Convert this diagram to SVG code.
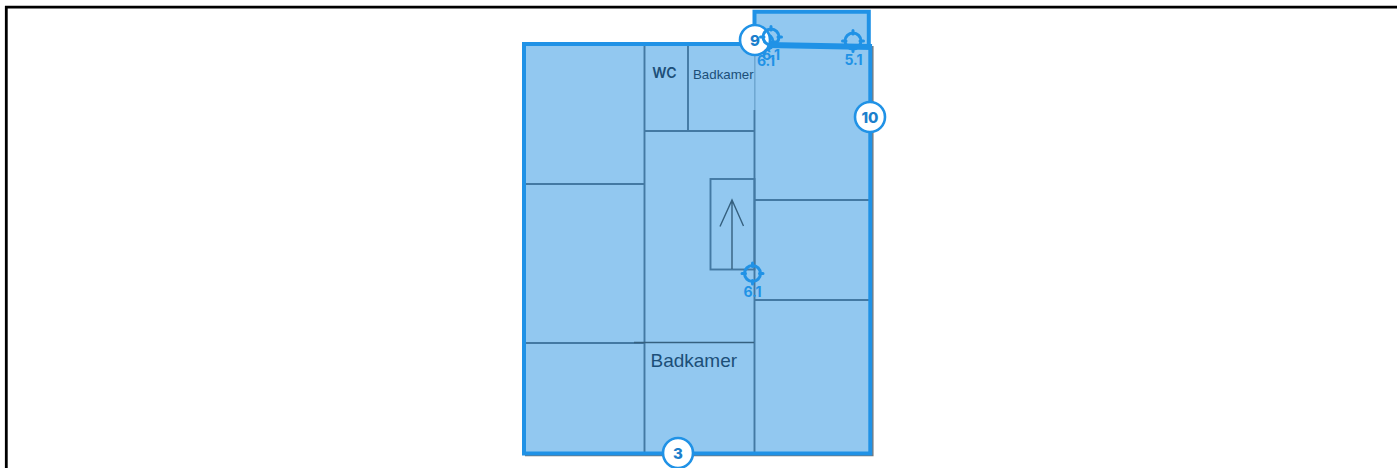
<svg xmlns="http://www.w3.org/2000/svg" width="1397" height="468" viewBox="0 0 1397 468">
<style>
.room{fill:#92c8f0;stroke:none}
.edge{fill:none;stroke:#2092e6;stroke-width:4}
.wall{fill:none;stroke:#4379a3;stroke-width:1.900}
.faint{fill:none;stroke:#6ea6d0;stroke-width:1.500}
.dark{fill:none;stroke:#35607f;stroke-width:1.400}
.lbl{font-family:"Liberation Sans",Arial,sans-serif;fill:#1c4f78}
.mark{fill:none;stroke:#2092e6;stroke-width:3}
.code{font-family:Inter,"Liberation Sans",sans-serif;font-size:14px;font-weight:700;fill:#2092e6;text-anchor:middle}
.badge{fill:#fff;stroke:#2092e6;stroke-width:2.600}
.num{font-family:Inter,"Liberation Sans",sans-serif;font-size:15px;font-weight:800;fill:#1c7fcc;text-anchor:middle}
</style>
<defs>
<g id="target">
<circle r="8" class="mark"/>
<path class="mark" stroke-linecap="round" d="M0-10.500V-7M0 7V10.500M-10.500 0H-7M7 0H10.500"/>
</g>
</defs>
<path id="frame" d="M6.300 468V7.100H1397" fill="none" stroke="#000" stroke-width="2.800"/>
<g id="plan">
<path d="M525 455.500H872.800V46" fill="none" stroke="#777" stroke-width="1.500"/>
<rect id="room-main" class="room" x="524" y="44" width="346" height="410"/>
<rect id="room-top" class="room" x="755" y="12" width="114" height="33"/>
<g id="walls">
<path class="wall" d="M644.500 45V453M688 45V131M754.500 110V453M645 131H754M525 184H645M525 343H645M755 200H870M755 300H870"/>
<path class="faint" d="M754.800 46V110"/>
<path class="dark" d="M634 342.500H754"/>
<rect class="wall" x="710.500" y="179" width="44" height="90.500"/>
<path class="dark" d="M732 269V201M720 226.500L732 200L743.500 226"/>
</g>
<path class="edge" d="M755 44H524V453.500H870.300V46"/>
<path class="edge" d="M754.500 44V11.800H868.800V44"/>
</g>
<g id="label-wc"><text class="lbl" x="664.500" y="78" font-size="14" text-anchor="middle" style="font-family:Inter,'Liberation Sans',sans-serif;font-weight:600">WC</text></g>
<g id="label-badkamer-small"><text class="lbl" x="693" y="79" font-size="13.300">Badkamer</text></g>
<g id="label-badkamer"><text class="lbl" x="650.500" y="367" font-size="19">Badkamer</text></g>
<g id="marker-6-1-second"><use href="#target" x="765" y="42"/><text class="code" x="766" y="66">6.1</text></g>
<g id="badge-9"><circle class="badge" cx="755" cy="40" r="15"/><text class="num" x="755" y="45.500">9</text></g>
<g id="marker-6-1-low"><use href="#target" x="752.500" y="273.500"/><text class="code" x="752.500" y="297">6.1</text></g>
<g id="marker-6-1-top"><use href="#target" x="771" y="37"/><text class="code" x="771" y="60">6.1</text></g>
<g id="marker-5-1"><use href="#target" x="853" y="41"/><text class="code" x="853.500" y="65">5.1</text></g>
<path id="band" d="M769 45L872 47" fill="none" stroke="#2092e6" stroke-width="6"/>
<g id="badge-10"><circle class="badge" cx="870" cy="117" r="15"/><text class="num" x="870" y="122.500">10</text></g>
<g id="badge-3"><circle class="badge" cx="678" cy="453" r="15"/><text class="num" x="678" y="458.500">3</text></g>
<g id="connectors"/>
</svg>
